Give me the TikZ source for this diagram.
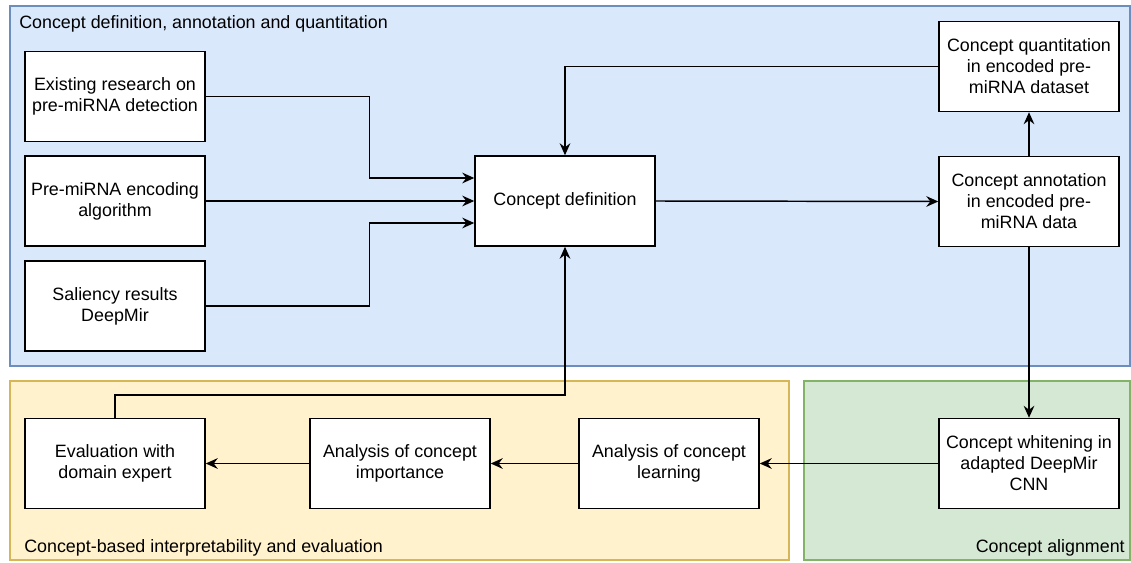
\documentclass[tikz,border=0pt]{standalone}
\usepackage{fontspec}
\setmainfont{Liberation Sans}
\usetikzlibrary{arrows.meta,calc}
\definecolor{bluefill}{HTML}{DAE8FC}
\definecolor{bluedraw}{HTML}{6C8EBF}
\definecolor{yelfill}{HTML}{FFF2CC}
\definecolor{yeldraw}{HTML}{D6B656}
\definecolor{grnfill}{HTML}{D5E8D4}
\definecolor{grndraw}{HTML}{82B366}
\tikzset{
  stepbox/.style={draw=black, fill=white, line width=1.1pt, rectangle,
    minimum width=135pt, minimum height=67.5pt, inner sep=0pt, align=center,
    font=\fontsize{13.4}{15.75}\selectfont},
  region/.style={line width=0.8pt},
  regionlabel/.style={inner sep=0pt, font=\fontsize{13.4}{15.75}\selectfont},
  arr/.style={line width=1.1pt, -{Stealth[length=9pt,width=8pt,inset=3pt]}},
  plainline/.style={line width=1.1pt}
}
\begin{document}
\begin{tikzpicture}[x=0.75pt,y=-0.75pt]
\useasboundingbox (0,0) rectangle (1131,563);
% regions
\draw[region, fill=bluefill, draw=bluedraw] (10,6) rectangle (1130,366);
\draw[region, fill=yelfill, draw=yeldraw] (10,381) rectangle (789,560);
\draw[region, fill=grnfill, draw=grndraw] (804,381) rectangle (1130,560);
\node[regionlabel, anchor=west] (lblue) at (19,24) {Concept definition, annotation and quantitation};
\node[regionlabel, anchor=west] (lyel) at (24,548) {Concept-based interpretability and evaluation};
\node[regionlabel, anchor=east] (lgrn) at (1125,548) {Concept alignment};
% boxes
\node[stepbox] (e1) at (115,96.5) {Existing research on\\pre-miRNA detection};
\node[stepbox] (e2) at (115,201) {Pre-miRNA encoding\\algorithm};
\node[stepbox] (e3) at (115,306) {Saliency results\\DeepMir};
\node[stepbox] (cd) at (565,201) {Concept definition};
\node[stepbox] (cq) at (1029,66.5) {Concept quantitation\\in encoded pre-\\miRNA dataset};
\node[stepbox] (ca) at (1029,201.5) {Concept annotation\\in encoded pre-\\miRNA data};
\node[stepbox] (cw) at (1029,463.5) {Concept whitening in\\adapted DeepMir\\CNN};
\node[stepbox] (al) at (669,463.5) {Analysis of concept\\learning};
\node[stepbox] (ai) at (400,463.5) {Analysis of concept\\importance};
\node[stepbox] (ev) at (115,463.5) {Evaluation with\\domain expert};
% connectors
\draw[arr] (e1.east) -| ($(cd.west)+(-105,-23)$) -- ($(cd.west)+(0,-23)$);
\draw[arr] (e2.east) -- (cd.west);
\draw[arr] (e3.east) -| ($(cd.west)+(-105,22)$) -- ($(cd.west)+(0,22)$);
\draw[arr] (cd.east) -- (ca.west);
\draw[arr] (ca.north) -- (cq.south);
\draw[arr] (cq.west) -| (cd.north);
\draw[arr] (ca.south) -- (cw.north);
\draw[arr] (cw.west) -- (al.east);
\draw[arr] (al.west) -- (ai.east);
\draw[arr] (ai.west) -- (ev.east);
\draw[arr] (ev.north) -- ++(0,-23) -| (cd.south);
\end{tikzpicture}
\end{document}
